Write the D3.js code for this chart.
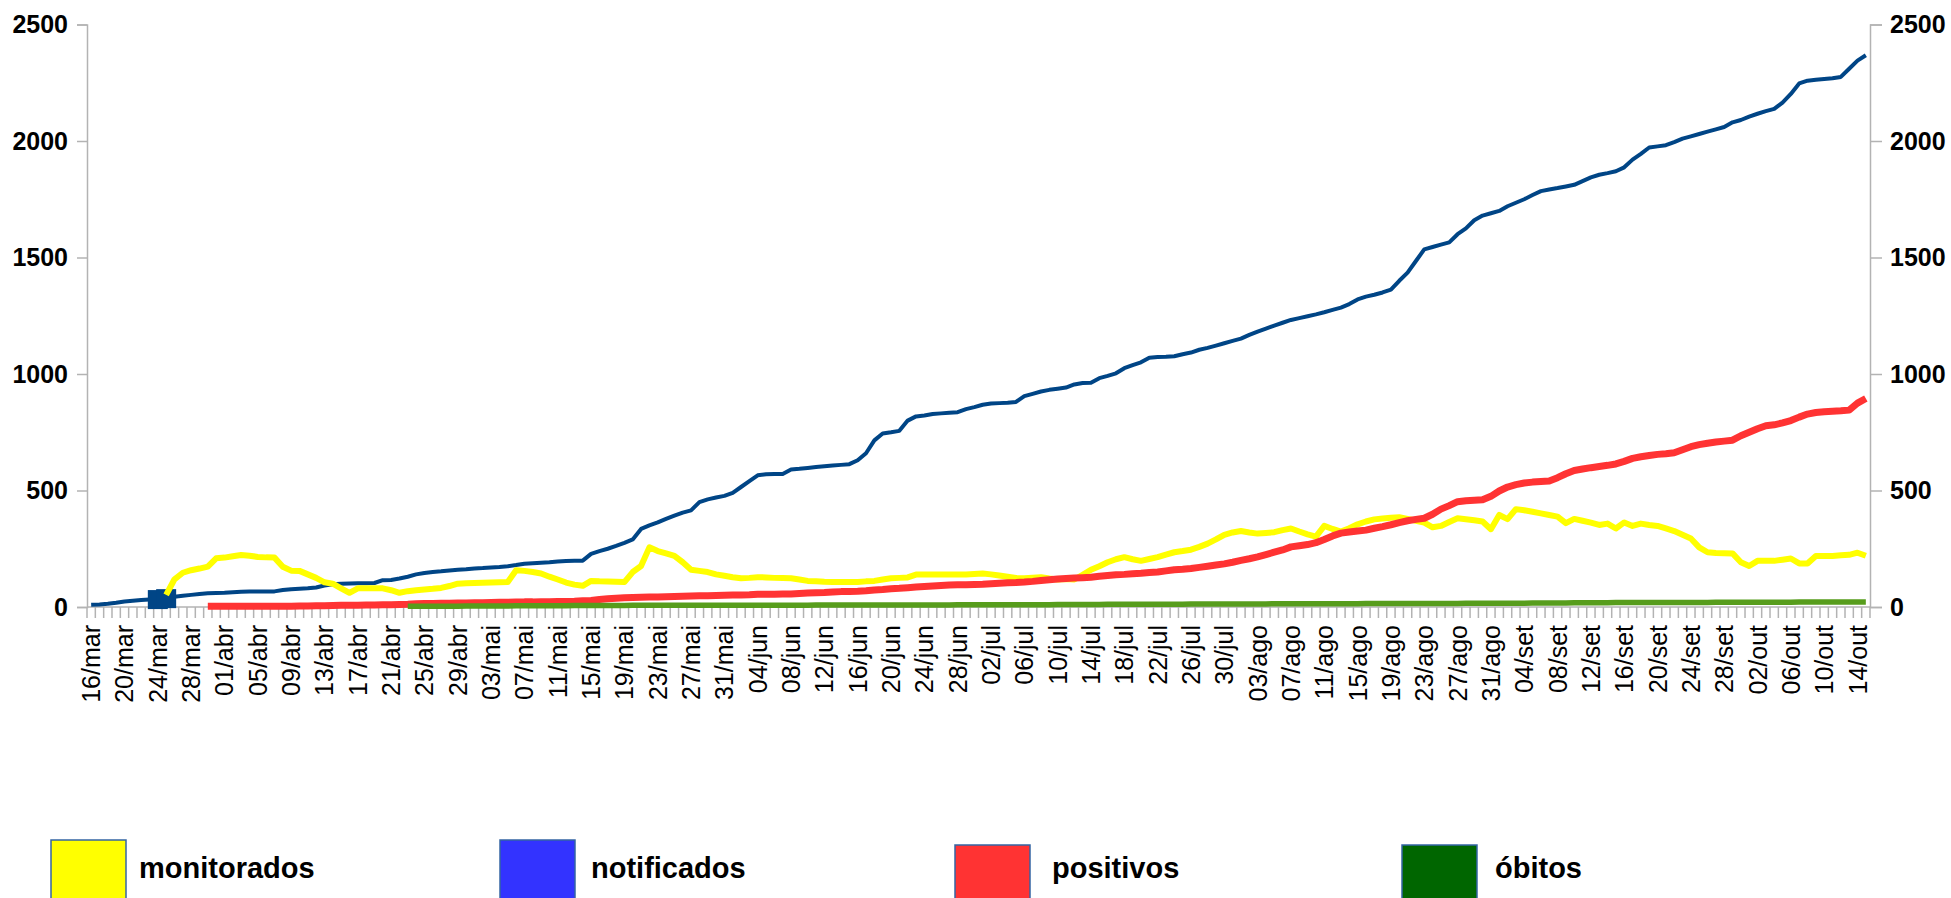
<!DOCTYPE html>
<html>
<head>
<meta charset="utf-8">
<script src="https://cdn.jsdelivr.net/npm/d3@7"></script>
<style>
  body { margin: 0; background: #fff; }
  text { font-family: "Liberation Sans", Arial, sans-serif; }
</style>
</head>
<body>
<script>
// dias de 16/mar a 15/out
var inicio = new Date(2020, 2, 16);
var fim = new Date(2020, 9, 16);
var meses = ["jan", "fev", "mar", "abr", "mai", "jun", "jul", "ago", "set", "out", "nov", "dez"];

var notificados = [10,11,14,18,24,27,30,32,34,38,
44,48,52,56,59,60,61,63,65,66,
66,66,67,73,76,78,80,84,92,98,
100,101,102,102,103,115,116,122,130,140,
146,150,153,157,160,162,165,167,170,172,
175,180,186,188,190,192,195,197,198,199,
228,240,250,262,275,290,335,350,363,378,
392,405,415,450,462,470,477,490,515,540,
565,570,571,571,590,593,597,601,604,607,
610,613,630,660,715,745,750,756,800,818,
822,828,831,834,836,849,858,868,873,875,
877,880,905,915,925,932,937,942,955,961,
962,982,992,1003,1025,1038,1050,1070,1073,1074,
1076,1085,1092,1104,1112,1122,1132,1142,1152,1168,
1182,1195,1208,1220,1232,1240,1248,1256,1265,1275,
1285,1300,1320,1332,1340,1350,1362,1400,1435,1485,
1535,1545,1555,1565,1600,1625,1660,1680,1690,1700,
1720,1735,1750,1768,1785,1792,1798,1805,1812,1828,
1844,1855,1862,1870,1887,1920,1945,1972,1977,1982,
1995,2010,2020,2030,2040,2050,2060,2080,2090,2105,
2117,2128,2138,2165,2202,2247,2259,2263,2266,2269,
2275,2310,2345,2368];

// começa em 25/mar
var monitoradosInicio = "25/mar";
var monitorados = [52,
119,147,158,165,173,209,212,218,223,220,
215,213,212,173,156,155,140,125,106,100,
80,61,80,80,80,80,72,61,68,72,
75,78,82,90,100,102,103,104,105,106,
107,158,155,150,144,130,118,105,96,91,
112,110,109,108,107,150,176,256,240,230,
219,192,160,155,150,140,134,128,123,125,
128,127,125,124,123,118,112,110,108,107,
107,107,107,110,112,118,123,125,127,139,
140,140,140,139,139,140,142,144,140,135,
130,125,123,126,128,122,118,120,118,138,
160,175,192,205,214,205,198,206,214,225,
235,240,246,258,272,290,310,320,326,320,
315,318,321,330,337,324,312,302,348,335,
324,338,355,367,376,380,383,385,378,370,
362,342,348,365,381,377,372,367,334,395,
377,420,415,409,402,395,388,360,378,370,
362,352,358,337,363,348,358,352,348,337,
326,310,294,256,235,232,231,230,192,176,
198,198,198,203,208,187,187,219,219,219,
222,224,233,220];

// começa em 30/mar
var positivosInicio = "30/mar";
var positivos = [3,3,3,3,3,3,
3,3,3,3,3,4,4,5,5,6,
7,8,8,9,9,10,10,11,12,14,
15,15,16,16,17,17,18,18,19,20,
20,21,22,22,23,23,24,24,25,27,
28,32,35,38,40,41,42,43,43,44,
45,46,47,48,48,49,50,51,52,53,
55,55,55,56,56,58,60,61,62,64,
66,67,68,70,73,75,78,80,83,86,
88,90,92,94,95,96,97,98,100,102,
104,105,107,110,114,117,120,122,124,126,
128,132,135,138,140,143,145,148,150,155,
160,162,165,170,175,180,185,192,200,207,
215,225,235,245,258,263,268,276,290,305,
317,322,326,330,338,345,353,362,370,376,
381,398,420,435,452,456,458,460,475,498,
515,525,532,536,539,541,555,572,586,592,
598,603,608,614,625,638,645,650,655,658,
662,675,688,697,703,708,712,716,735,750,
765,778,782,790,800,815,828,835,838,840,
842,845,875,895];

// começa em 23/abr
var obitosInicio = "23/abr";
var obitos = [3,3,3,3,3,3,3,4,4,4,4,4,
4,5,5,5,5,5,5,5,6,6,
6,6,6,6,6,7,7,7,7,7,
7,7,7,7,8,8,8,8,8,8,
8,8,8,8,8,8,8,9,9,9,
9,9,9,9,9,9,9,9,9,9,
9,9,9,9,10,10,10,10,10,10,
10,10,10,10,10,10,11,11,11,11,
11,11,12,12,12,12,12,12,12,12,
12,12,13,13,13,13,13,13,13,13,
13,13,14,14,14,14,14,14,14,14,
14,14,14,15,15,15,15,15,15,15,
15,15,15,15,15,16,16,16,16,16,
16,16,16,17,17,17,17,17,18,18,
18,18,18,19,19,19,19,19,19,19,
19,19,19,19,19,20,20,20,20,20,
20,20,20,20,20,21,21,21,21,21,
21,21,21,21];

// pontos com marcador (notificados)
var marcados = ["24/mar", "25/mar"];

var yTicks = [0, 500, 1000, 1500, 2000, 2500];

var legenda = [
  {nome: "monitorados", cor: "#ffff00"},
  {nome: "notificados", cor: "#3333ff"},
  {nome: "positivos", cor: "#ff3333"},
  {nome: "óbitos", cor: "#006600"}
];

function rotulo(d) {
  return d3.timeFormat("%d")(d) + "/" + meses[d.getMonth()];
}

var dias = d3.timeDay.range(inicio, fim).map(rotulo);

function serie(valores, primeiro) {
  var k = dias.indexOf(primeiro);
  return valores.map(function(v, i) { return {dia: dias[k + i], v: v}; });
}

function draw() {
  var width = 1951, height = 898;
  var mLeft = 87, mRight = 1870, mTop = 24.5, mBottom = 607;

  var svg = d3.select("body").append("svg")
    .attr("width", width)
    .attr("height", height);

  var x = d3.scaleBand().domain(dias).range([mLeft, mRight]).padding(0);
  var y = d3.scaleLinear().domain([0, 2500]).range([mBottom, mTop]);
  var cx = function(d) { return x(d) + x.bandwidth() / 2; };

  // eixos y
  svg.append("g")
    .attr("transform", "translate(" + mLeft + ",0)")
    .call(d3.axisLeft(y).tickValues(yTicks).tickFormat(d3.format("d")).tickSize(10).tickPadding(9));
  svg.append("g")
    .attr("transform", "translate(" + mRight + ",0)")
    .call(d3.axisRight(y).tickValues(yTicks).tickFormat(d3.format("d")).tickSize(12).tickPadding(8));
  svg.selectAll(".tick text")
    .attr("font-size", 25)
    .attr("font-weight", "bold")
    .attr("fill", "#000")
    .attr("font-family", "Liberation Sans, Arial, sans-serif");
  svg.selectAll(".domain, .tick line").attr("stroke", "#b3b3b3").attr("stroke-width", 1.5);

  // eixo x
  var xa = svg.append("g")
    .attr("transform", "translate(0," + mBottom + ")");
  xa.append("line")
    .attr("x1", mLeft).attr("x2", mRight)
    .attr("stroke", "#b3b3b3").attr("stroke-width", 1.5);
  xa.selectAll(".tk")
    .data(dias.concat(["fim"]))
    .join("line")
    .attr("class", "tk")
    .attr("x1", d => d == "fim" ? mRight : x(d))
    .attr("x2", d => d == "fim" ? mRight : x(d))
    .attr("y1", 0).attr("y2", 11)
    .attr("stroke", "#b3b3b3").attr("stroke-width", 1.5);
  xa.selectAll(".lb")
    .data(dias.filter((d, i) => i % 4 == 0))
    .join("text")
    .attr("class", "lb")
    .attr("transform", d => "translate(" + (cx(d) + 9) + ",18) rotate(-90)")
    .attr("text-anchor", "end")
    .attr("font-size", 25)
    .attr("fill", "#000")
    .text(d => d);

  var linha = d3.line()
    .x(d => cx(d.dia))
    .y(d => y(d.v));

  var nd = serie(notificados, dias[0]);
  svg.append("path")
    .datum(nd)
    .attr("d", linha)
    .attr("fill", "none")
    .attr("stroke", "#004586")
    .attr("stroke-width", 4)
    .attr("stroke-linejoin", "round");

  svg.selectAll(".mk")
    .data(nd.filter(d => marcados.indexOf(d.dia) >= 0))
    .join("rect")
    .attr("class", "mk")
    .attr("x", d => cx(d.dia) - 10)
    .attr("y", d => y(d.v) - 9)
    .attr("width", 20)
    .attr("height", 19)
    .attr("fill", "#004586");

  svg.append("path")
    .datum(serie(monitorados, monitoradosInicio))
    .attr("d", linha)
    .attr("fill", "none")
    .attr("stroke", "#ffff00")
    .attr("stroke-width", 6)
    .attr("stroke-linejoin", "round");

  svg.append("path")
    .datum(serie(positivos, positivosInicio))
    .attr("d", linha)
    .attr("fill", "none")
    .attr("stroke", "#ff3333")
    .attr("stroke-width", 7)
    .attr("stroke-linejoin", "round");

  svg.append("path")
    .datum(serie(obitos, obitosInicio))
    .attr("d", linha)
    .attr("fill", "none")
    .attr("stroke", "#579d1c")
    .attr("stroke-width", 5.5)
    .attr("stroke-linejoin", "round");

  // legenda
  var lg = svg.selectAll(".lg")
    .data(legenda)
    .join("g")
    .attr("class", "lg")
    .attr("transform", (d, i) => "translate(" + [51, 500, 955, 1402][i] + ",0)");
  lg.append("rect")
    .attr("x", 0)
    .attr("y", (d, i) => i < 2 ? 840 : 845)
    .attr("width", 75)
    .attr("height", 70)
    .attr("fill", d => d.cor)
    .attr("stroke", "#3465a4")
    .attr("stroke-width", 1.5);
  lg.append("text")
    .attr("x", (d, i) => [88, 91, 97, 93][i])
    .attr("y", 878)
    .attr("font-size", 29)
    .attr("font-weight", "bold")
    .attr("fill", "#000")
    .text(d => d.nome);
}

draw();
</script>
</body>
</html>
